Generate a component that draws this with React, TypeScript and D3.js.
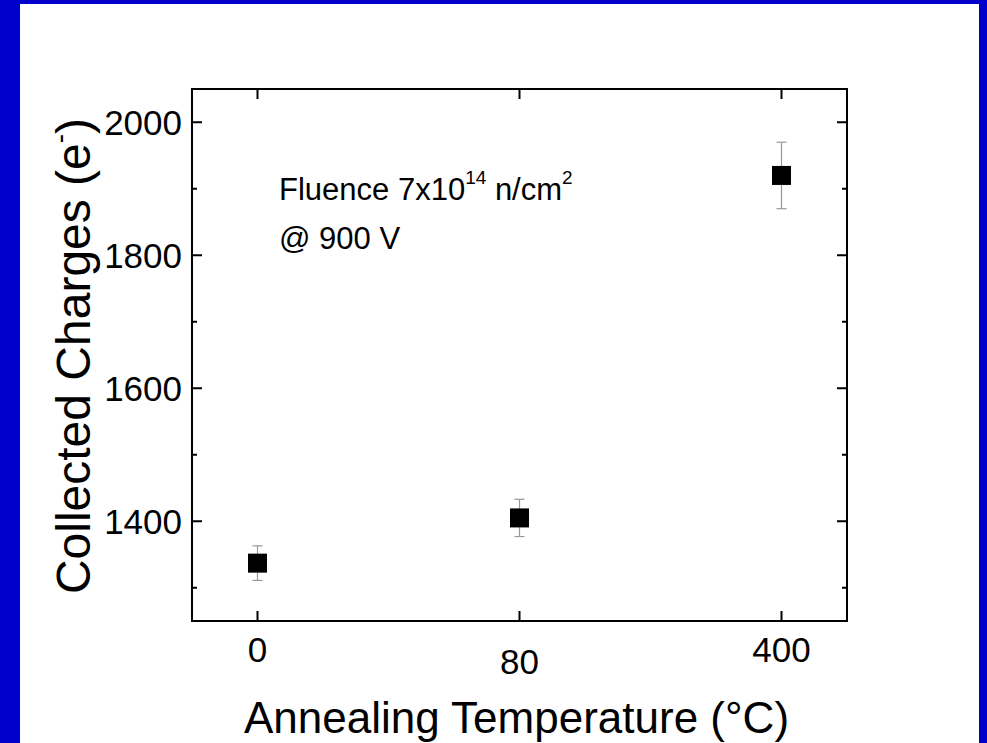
import React from "react";
import * as d3 from "d3";

const categories = ["0", "80", "400"];
const charges = [1337, 1405, 1920];
const chargeErrors = [26, 28, 50];
const yMajorTicks = [1400, 1600, 1800, 2000];
const yMinorTicks = [1300, 1500, 1700, 1900];

const W = 987;
const H = 743;
const BLUE = "#0000CC";
const FONT = "'Liberation Sans', Arial, Helvetica, sans-serif";

export default function App() {
  const left = 192, right = 847, top = 89, bottom = 621;
  const x = d3.scaleLinear().domain([-0.25, categories.length - 0.75]).range([left, right]);
  const y = d3.scaleLinear().domain([1250, 2050]).range([bottom, top]);
  const sq = 19;

  return (
    <svg width={W} height={H} style={{ position: "absolute", left: 0, top: 0, display: "block" }}>
      <rect x={0} y={0} width={W} height={H} fill={BLUE} />
      <rect x={20} y={4} width={959} height={H - 4} fill="#ffffff" />

      {/* frame */}
      <rect x={left} y={top} width={right - left} height={bottom - top} fill="none" stroke="#000" strokeWidth={2} />

      {/* y ticks */}
      {yMajorTicks.map((t) => (
        <g key={"ym" + t}>
          <line x1={left} x2={left + 10} y1={y(t)} y2={y(t)} stroke="#000" strokeWidth={2} />
          <line x1={right} x2={right - 10} y1={y(t)} y2={y(t)} stroke="#000" strokeWidth={2} />
          <text x={left - 10} y={y(t)} dy="0.36em" textAnchor="end" fontFamily={FONT} fontSize={35} fill="#000">
            {t}
          </text>
        </g>
      ))}
      {yMinorTicks.map((t) => (
        <g key={"yn" + t}>
          <line x1={left} x2={left + 5} y1={y(t)} y2={y(t)} stroke="#000" strokeWidth={2} />
          <line x1={right} x2={right - 5} y1={y(t)} y2={y(t)} stroke="#000" strokeWidth={2} />
        </g>
      ))}

      {/* x ticks */}
      {categories.map((c, i) => (
        <g key={"x" + c}>
          <line x1={x(i)} x2={x(i)} y1={bottom} y2={bottom - 10} stroke="#000" strokeWidth={2} />
          <line x1={x(i)} x2={x(i)} y1={top} y2={top + 10} stroke="#000" strokeWidth={2} />
          <text x={x(i)} y={bottom + 41 + (i === 1 ? 12 : 0)} textAnchor="middle" fontFamily={FONT} fontSize={35} fill="#000">
            {c}
          </text>
        </g>
      ))}

      {/* error bars and points */}
      {charges.map((v, i) => {
        const cx = x(i);
        const e = chargeErrors[i];
        return (
          <g key={"p" + i}>
            <line x1={cx} x2={cx} y1={y(v + e)} y2={y(v - e)} stroke="#999" strokeWidth={1.2} />
            <line x1={cx - 5} x2={cx + 5} y1={y(v + e)} y2={y(v + e)} stroke="#999" strokeWidth={1.2} />
            <line x1={cx - 5} x2={cx + 5} y1={y(v - e)} y2={y(v - e)} stroke="#999" strokeWidth={1.2} />
            <rect x={cx - sq / 2} y={y(v) - sq / 2} width={sq} height={sq} fill="#000" />
          </g>
        );
      })}

      {/* annotation */}
      <text x={279} y={200} fontFamily={FONT} fontSize={31} fill="#000">
        Fluence 7x10
        <tspan fontSize={19} dy={-16}>14</tspan>
        <tspan dy={16}> n/cm</tspan>
        <tspan fontSize={19} dy={-16}>2</tspan>
      </text>
      <text x={279} y={249} fontFamily={FONT} fontSize={31} fill="#000">
        @ 900 V
      </text>

      {/* axis titles */}
      <text x={(left + right) / 2 - 3} y={733} textAnchor="middle" fontFamily={FONT} fontSize={44} fill="#000">
        Annealing Temperature (°C)
      </text>
      <text
        transform={`translate(90, 356) rotate(-90)`}
        textAnchor="middle"
        fontFamily={FONT}
        fontSize={48}
        fill="#000"
      >
        Collected Charges (e<tspan fontSize={28} dy={-21}>-</tspan><tspan dy={21}>)</tspan>
      </text>
    </svg>
  );
}
